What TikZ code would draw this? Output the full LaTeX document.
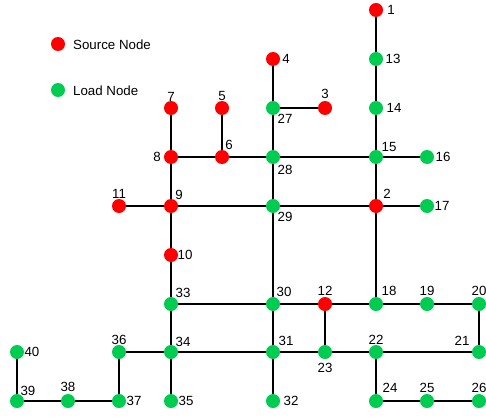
\documentclass[tikz,border=0pt]{standalone}
\usepackage{fontspec}
\setmainfont{Liberation Sans}
\usetikzlibrary{backgrounds}
\definecolor{srcred}{RGB}{255,0,0}
\definecolor{ldgreen}{RGB}{0,204,82}
\tikzset{
  busnode/.style={circle, minimum size=14pt, inner sep=0pt, draw=none},
  srcnode/.style={busnode, fill=srcred},
  ldnode/.style={busnode, fill=ldgreen},
  lbl/.style={font=\fontsize{13.3}{15}\selectfont, inner sep=0pt},
  wire/.style={line width=1.9pt, black},
  bl/.style n args={3}{label={[lbl, anchor=center, xshift=#1pt, yshift=#2pt]center:#3}},
}
\begin{document}
\begin{tikzpicture}[x=1pt,y=-1pt]
\useasboundingbox (0,0) rectangle (486,417);
% legend
\node[srcnode] (legS) at (58,44) {};
\node[lbl, anchor=west] (legSt) at (73,45) {Source Node};
\node[ldnode] (legL) at (58,90) {};
\node[lbl, anchor=west] (legLt) at (73,91) {Load Node};
% nodes
\node[srcnode, bl={15}{0}{1}] (n1) at (376,10) {};
\node[ldnode, bl={17}{0}{13}] (n13) at (376,59) {};
\node[ldnode, bl={18}{0}{14}] (n14) at (376,108) {};
\node[ldnode, bl={13}{10}{15}] (n15) at (376,157) {};
\node[ldnode, bl={16}{0}{16}] (n16) at (427,157) {};
\node[srcnode, bl={11}{12}{2}] (n2) at (376,206) {};
\node[ldnode, bl={15}{0}{17}] (n17) at (427,206) {};
\node[srcnode, bl={13}{0}{4}] (n4) at (273,59) {};
\node[ldnode, bl={12}{-11}{27}] (n27) at (273,108) {};
\node[srcnode, bl={0}{14}{3}] (n3) at (325,108) {};
\node[srcnode, bl={0}{12}{5}] (n5) at (222,108) {};
\node[srcnode, bl={7}{12}{6}] (n6) at (222,157) {};
\node[ldnode, bl={12}{-13}{28}] (n28) at (273,157) {};
\node[ldnode, bl={12}{-11}{29}] (n29) at (273,206) {};
\node[srcnode, bl={0}{11}{7}] (n7) at (171,108) {};
\node[srcnode, bl={-14}{0}{8}] (n8) at (171,157) {};
\node[srcnode, bl={0}{12}{11}] (n11) at (119,206) {};
\node[srcnode, bl={8}{11}{9}] (n9) at (171,206) {};
\node[srcnode, bl={14}{0}{10}] (n10) at (171,255) {};
\node[ldnode, bl={12}{11}{33}] (n33) at (171,304) {};
\node[ldnode, bl={11}{12}{30}] (n30) at (273,304) {};
\node[srcnode, bl={0}{13}{12}] (n12) at (325,304) {};
\node[ldnode, bl={13}{13}{18}] (n18) at (376,304) {};
\node[ldnode, bl={0}{13}{19}] (n19) at (427,304) {};
\node[ldnode, bl={0}{13}{20}] (n20) at (479,304) {};
\node[ldnode, bl={13}{11}{31}] (n31) at (273,352) {};
\node[ldnode, bl={0}{-16}{23}] (n23) at (325,352) {};
\node[ldnode, bl={0}{12}{22}] (n22) at (376,352) {};
\node[ldnode, bl={-17}{11}{21}] (n21) at (479,352) {};
\node[ldnode, bl={18}{0}{32}] (n32) at (273,401) {};
\node[ldnode, bl={14}{13}{24}] (n24) at (376,401) {};
\node[ldnode, bl={0}{13}{25}] (n25) at (427,401) {};
\node[ldnode, bl={0}{13}{26}] (n26) at (479,401) {};
\node[ldnode, bl={15}{0}{40}] (n40) at (17,352) {};
\node[ldnode, bl={11}{10}{39}] (n39) at (17,401) {};
\node[ldnode, bl={0}{14}{38}] (n38) at (68,401) {};
\node[ldnode, bl={15}{0}{37}] (n37) at (119,401) {};
\node[ldnode, bl={0}{12}{36}] (n36) at (119,352) {};
\node[ldnode, bl={12}{10}{34}] (n34) at (171,352) {};
\node[ldnode, bl={15}{0}{35}] (n35) at (171,401) {};
% edges
\begin{scope}[on background layer]
\draw[wire] (n1) -- (n13) -- (n14) -- (n15) -- (n2) -- (n18);
\draw[wire] (n15) -- (n16);
\draw[wire] (n2) -- (n17);
\draw[wire] (n8) -- (n6) -- (n28) -- (n15);
\draw[wire] (n6) -- (n5);
\draw[wire] (n7) -- (n8) -- (n9) -- (n10) -- (n33) -- (n34) -- (n35);
\draw[wire] (n11) -- (n9) -- (n29) -- (n2);
\draw[wire] (n4) -- (n27) -- (n28) -- (n29) -- (n30) -- (n31) -- (n32);
\draw[wire] (n27) -- (n3);
\draw[wire] (n33) -- (n30) -- (n12) -- (n18) -- (n19) -- (n20) -- (n21) -- (n22) -- (n23) -- (n31) -- (n34) -- (n36) -- (n37) -- (n38) -- (n39) -- (n40);
\draw[wire] (n12) -- (n23);
\draw[wire] (n22) -- (n24) -- (n25) -- (n26);
\end{scope}
\end{tikzpicture}
\end{document}
